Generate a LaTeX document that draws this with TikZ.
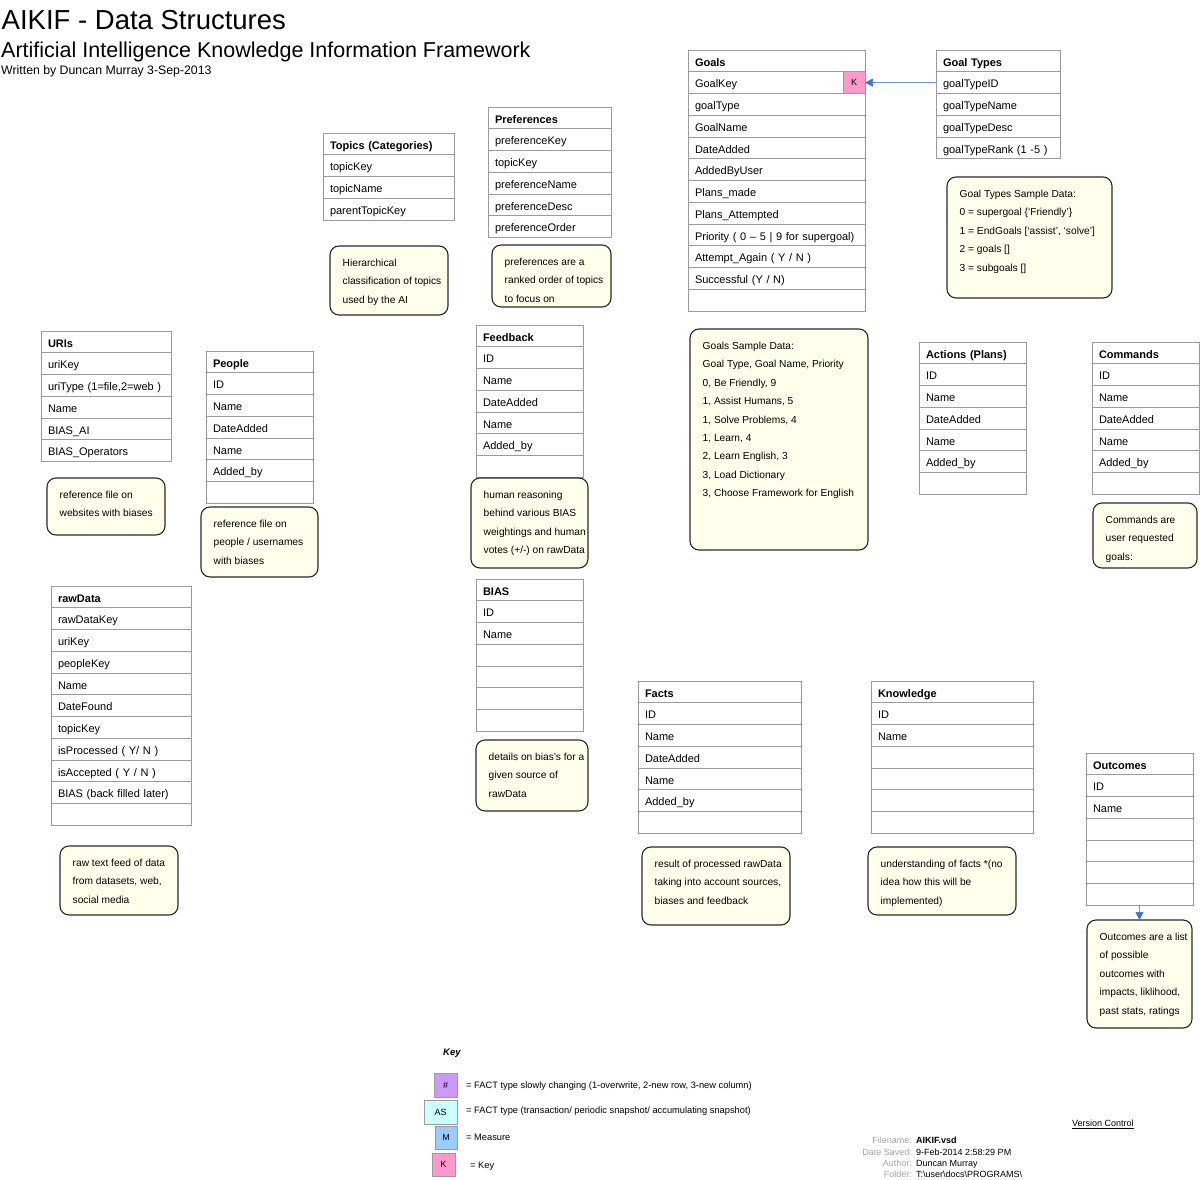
\documentclass[tikz,border=0pt]{standalone}
\usepackage{fontspec}
\setmainfont{Liberation Sans}
\usetikzlibrary{arrows.meta}

\definecolor{tabline}{RGB}{155,155,155}
\definecolor{notefill}{RGB}{255,255,235}
\definecolor{noteline}{RGB}{40,40,40}
\definecolor{keypink}{RGB}{255,153,204}
\definecolor{keypurple}{RGB}{204,153,255}
\definecolor{keycyan}{RGB}{204,255,255}
\definecolor{keyblue}{RGB}{153,204,255}
\definecolor{linkline}{RGB}{110,150,210}
\definecolor{linkhead}{RGB}{68,114,196}
\definecolor{infogrey}{RGB}{165,165,165}

\newcommand\tabfont{\fontsize{11}{13}\selectfont}
\newcommand\memofont{\fontsize{10.2}{18.4}\selectfont}
\newcommand\smallfont{\fontsize{9}{11}\selectfont}
\newcommand\legendfont{\fontsize{9.3}{11}\selectfont}

\tikzset{
  tabcell/.style={draw=tabline, line width=0.8pt, rectangle, outer sep=0pt,
    inner xsep=7pt, inner ysep=0pt, minimum height=21.75pt,
    text height=10.6pt, text depth=0pt, align=left, font=\tabfont},
  memobox/.style={draw=noteline, fill=notefill, line width=1.1pt,
    rounded corners=9pt, rectangle, inner sep=0pt, outer sep=0pt},
  memotext/.style={inner sep=0pt, align=left, font=\memofont},
  keybox/.style={draw=tabline, line width=0.8pt, rectangle, inner sep=0pt,
    outer sep=0pt, font=\smallfont},
  link/.style={draw=linkline, line width=0.7pt,
    -{Triangle[length=8pt,width=8pt,color=linkhead]}},
  plain/.style={inner sep=0pt, font=\smallfont},
  legend/.style={inner sep=0pt, font=\legendfont},
}

% table: name, left x, top y, width, title, list of rows
\newcommand\dbtable[6]{%
  \pgfmathsetmacro\tabtw{#4-14}%
  \node[tabcell, text width=\tabtw pt, font=\tabfont\bfseries, anchor=north west]
    (#1-0) at (#2,#3) {\mbox{#5}};%
  \foreach \t [count=\i] in {#6}{%
    \pgfmathtruncatemacro\j{\i-1}%
    \node[tabcell, text width=\tabtw pt, anchor=north] (#1-\i) at (#1-\j.south) {\mbox{\t}};%
  }%
}

% note: name, left x, top y, width, height, text lines
\newcommand\memo[6]{%
  \node[memobox, minimum width=#4pt, minimum height=#5pt, anchor=north west]
    (#1) at (#2,#3) {};%
  \node[memotext, anchor=north west] (#1-t)
    at ([xshift=12.5pt, yshift=-13pt]#1.north west) {#6};%
}

\begin{document}
\begin{tikzpicture}[x=1pt, y=-1pt]
\fill[white] (0,0) rectangle (1200,1180);
\useasboundingbox (0,0) rectangle (1200,1180);

% headings
\node[inner sep=0pt, anchor=base west, font=\fontsize{27.5}{30}\selectfont] (title) at (1.5,30) {AIKIF - Data Structures};
\node[inner sep=0pt, anchor=base west, font=\fontsize{21.5}{24}\selectfont] (subtitle) at (1,57.5) {Artificial Intelligence Knowledge Information Framework};
\node[inner sep=0pt, anchor=base west, font=\fontsize{12.3}{14}\selectfont] (author) at (1,75) {Written by Duncan Murray 3-Sep-2013};

% tables
\dbtable{goals}{688}{50}{177}{Goals}{GoalKey,goalType,GoalName,DateAdded,AddedByUser,Plans\_made,Plans\_Attempted,Priority ( 0 – 5 | 9 for supergoal),Attempt\_Again ( Y / N ),Successful (Y / N),{}}
\node[keybox, fill=keypink, minimum width=22pt, minimum height=21.75pt, anchor=east] (goals-k) at (goals-1.east) {K};

\dbtable{gtypes}{936}{50}{124}{Goal Types}{goalTypeID,goalTypeName,goalTypeDesc,goalTypeRank (1 -5 )}

\dbtable{topics}{323}{133}{131}{Topics (Categories)}{topicKey,topicName,parentTopicKey}

\dbtable{prefs}{488}{107}{123}{Preferences}{preferenceKey,topicKey,preferenceName,preferenceDesc,preferenceOrder}

\dbtable{uris}{41}{331}{130}{URIs}{uriKey,{uriType (1=file,2=web )},Name,BIAS\_AI,BIAS\_Operators}

\dbtable{people}{206}{351}{107}{People}{ID,Name,DateAdded,Name,Added\_by,{}}

\dbtable{feedback}{476}{325}{107}{Feedback}{ID,Name,DateAdded,Name,Added\_by,{}}

\dbtable{bias}{476}{579}{107}{BIAS}{ID,Name,{},{},{},{}}

\dbtable{rawdata}{51}{586}{140}{rawData}{rawDataKey,uriKey,peopleKey,Name,DateFound,topicKey,isProcessed ( Y/ N ),isAccepted ( Y / N ),BIAS (back filled later),{}}

\dbtable{actions}{919}{342}{107}{Actions (Plans)}{ID,Name,DateAdded,Name,Added\_by,{}}

\dbtable{commands}{1092}{342}{107}{Commands}{ID,Name,DateAdded,Name,Added\_by,{}}

\dbtable{facts}{638}{681}{163}{Facts}{ID,Name,DateAdded,Name,Added\_by,{}}

\dbtable{knowledge}{871}{681}{162}{Knowledge}{ID,Name,{},{},{},{}}

\dbtable{outcomes}{1086}{753}{107}{Outcomes}{ID,Name,{},{},{},{}}

% notes
\memo{n-topics}{330}{246}{118}{69}{Hierarchical\\classification of topics\\used by the AI}
\memo{n-prefs}{492}{245}{119}{62}{preferences are a\\ranked order of topics\\to focus on}
\memo{n-gtypes}{947}{177}{165}{121}{Goal Types Sample Data:\\0 = supergoal \{‘Friendly’\}\\1 = EndGoals [‘assist’, ‘solve’]\\2 = goals []\\3 = subgoals []}
\memo{n-goals}{690}{329}{178}{221}{Goals Sample Data:\\Goal Type, Goal Name, Priority\\0, Be Friendly, 9\\1, Assist Humans, 5\\1, Solve Problems, 4\\1, Learn, 4\\2, Learn English, 3\\3, Load Dictionary\\3, Choose Framework for English}
\memo{n-uris}{47}{478}{118}{57}{reference file on\\websites with biases}
\memo{n-people}{201}{507}{117}{70}{reference file on\\people / usernames\\with biases}
\memo{n-feedback}{471}{478}{117}{90}{human reasoning\\behind various BIAS\\weightings and human\\votes (+/-) on rawData}
\memo{n-bias}{476}{740}{112}{71}{details on bias's for a\\given source of\\rawData}
\memo{n-rawdata}{60}{846}{118}{69}{raw text feed of data\\from datasets, web,\\social media}
\memo{n-commands}{1093}{503}{104}{65}{Commands are\\user requested\\goals:}
\memo{n-facts}{642}{847}{148}{78}{result of processed rawData\\taking into account sources,\\biases and feedback}
\memo{n-knowledge}{868}{847}{148}{68}{understanding of facts *(no\\idea how this will be\\implemented)}
\memo{n-outcomes}{1087}{920}{105}{108}{Outcomes are a list\\of possible\\outcomes with\\impacts, liklihood,\\past stats, ratings}

% connectors
\draw[link] (gtypes-1.west) -- (goals-k.east);
\draw[link] (outcomes-6.south) -- (n-outcomes.north);

% key
\node[plain, anchor=base west, font=\fontsize{9.5}{11}\selectfont\bfseries\itshape] (key-title) at (443,1055.5) {Key};
\node[keybox, fill=keypurple, minimum width=23pt, minimum height=24pt, anchor=north west] (key-scd) at (434,1073) {\#};
\node[legend, anchor=base west] (key-scd-t) at (466,1088.3) {= FACT type slowly changing (1-overwrite, 2-new row, 3-new column)};
\node[keybox, fill=keycyan, minimum width=33pt, minimum height=24pt, anchor=north west] (key-as) at (424,1100) {AS};
\node[legend, anchor=base west] (key-as-t) at (466,1113.3) {= FACT type (transaction/ periodic snapshot/ accumulating snapshot)};
\node[keybox, fill=keyblue, minimum width=22pt, minimum height=23pt, anchor=north west] (key-m) at (435,1126) {M};
\node[legend, anchor=base west] (key-m-t) at (466,1140.3) {= Measure};
\node[keybox, fill=keypink, minimum width=23pt, minimum height=23pt, anchor=north west] (key-k) at (432,1153) {K};
\node[legend, anchor=base west] (key-k-t) at (470,1168.3) {= Key};

% document information
\node[plain, anchor=base west] (vc) at (1072,1126.5) {\underline{Version Control}};
\node[plain, anchor=base east, text=infogrey] (fn-l) at (912,1143.5) {Filename:};
\node[plain, anchor=base west, font=\smallfont\bfseries] (fn-v) at (916,1143.5) {AIKIF.vsd};
\node[plain, anchor=base east, text=infogrey] (ds-l) at (912,1155) {Date Saved:};
\node[plain, anchor=base west] (ds-v) at (916,1155) {9-Feb-2014 2:58:29 PM};
\node[plain, anchor=base east, text=infogrey] (au-l) at (912,1166.3) {Author:};
\node[plain, anchor=base west] (au-v) at (916,1166.3) {Duncan Murray};
\node[plain, anchor=base east, text=infogrey] (fo-l) at (912,1177.6) {Folder:};
\node[plain, anchor=base west] (fo-v) at (916,1177.6) {T:\textbackslash user\textbackslash docs\textbackslash PROGRAMS\textbackslash};
\end{tikzpicture}
\end{document}
